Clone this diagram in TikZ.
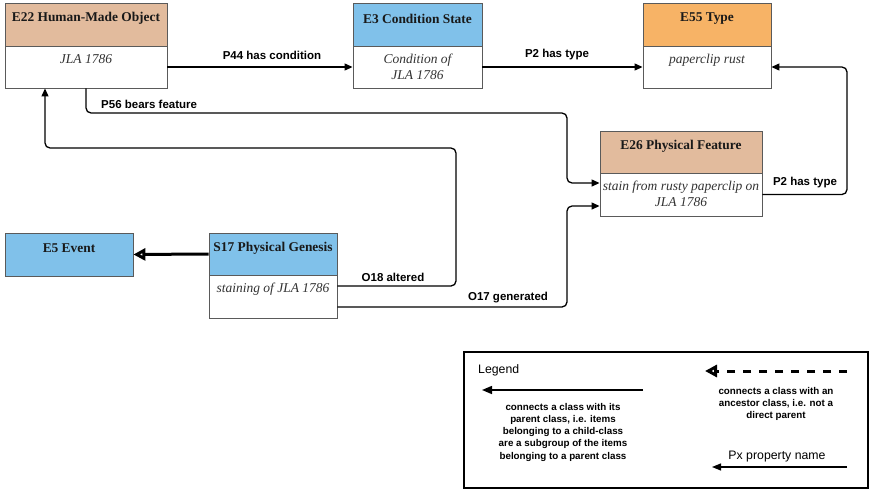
\documentclass[tikz,border=0pt]{standalone}
\usepackage{fontspec}
\setmainfont{Liberation Serif}
\newfontfamily\lsans{Liberation Sans}
\usetikzlibrary{arrows.meta}

\definecolor{clstan}{HTML}{E2BB9D}
\definecolor{clsblue}{HTML}{80C1EA}
\definecolor{clsorange}{HTML}{F7B366}
\definecolor{boxgray}{HTML}{5A5A5A}
\definecolor{inkgray}{HTML}{333333}

\tikzset{
  partbox/.style={draw=boxgray, line width=0.9pt, inner sep=0pt},
  titletext/.style={font=\fontsize{13.4}{15}\selectfont\bfseries, text=black!90, inner sep=0pt},
  bodytext/.style={font=\fontsize{13.5}{16}\selectfont\itshape, text=inkgray, align=center, inner sep=0pt, anchor=north},
  proplabel/.style={font=\lsans\fontsize{11.5}{13}\selectfont\bfseries, inner sep=0pt},
  conn/.style={line width=1.3pt, rounded corners=5pt, -{Triangle[length=8pt,width=7pt]}},
  openhead/.style={-{Triangle[open,length=12pt,width=12pt,line width=3pt]}},
  isa/.style={line width=3pt, openhead},
  legtext/.style={font=\lsans\fontsize{9.8}{12.2}\selectfont\bfseries, align=center, inner sep=0pt, anchor=north},
}

% class box: name, x-left, x-right, y-top, y-split, y-bottom, header fill, title, instance text
\newcommand\clsbox[9]{%
  \node[partbox, fill=#7, minimum width={(#3-#2)*1pt}, minimum height={(#5-#4)*1pt}]
    (#1h) at ({(#2+#3)/2},{(#4+#5)/2}) {};
  \node[partbox, fill=white, minimum width={(#3-#2)*1pt}, minimum height={(#6-#5)*1pt}]
    (#1) at ({(#2+#3)/2},{(#5+#6)/2}) {};
  \node[titletext] at ([yshift=-16pt]#1h.north) {#8};
  \node[bodytext] at ([yshift=-8.5pt]#1.north) {#9};
}

\begin{document}
\begin{tikzpicture}[x=1pt, y=-1pt]
\useasboundingbox (0,0) rectangle (871,490);

% classes
\clsbox{e22}{5}{167}{3}{46}{88}{clstan}{E22 Human-Made Object}{JLA 1786}
\clsbox{e3}{353}{482}{3}{46}{88}{clsblue}{E3 Condition State}{Condition of\\JLA 1786}
\clsbox{e55}{643}{771}{3}{46}{88}{clsorange}{E55 Type}{paperclip rust}
\clsbox{e26}{600}{762}{131}{173}{216}{clstan}{E26 Physical Feature}{stain from rusty paperclip on\\JLA 1786}
\clsbox{s17}{209}{337}{233}{275}{318}{clsblue}{S17 Physical Genesis}{staining of JLA 1786}
\node[partbox, fill=clsblue, minimum width=128pt, minimum height=43pt] (e5) at (69,254.5) {};
\node[titletext] at ([yshift=-16pt]e5.north) {E5 Event};

% properties
\draw[conn] (e22.east) -- (e3.west);
\node[proplabel] at (272,55) {P44 has condition};

\draw[conn] (e3.east) -- (e55.west);
\node[proplabel] at (557,55) {P2 has type};

\coordinate (bendA) at (847,67);
\draw[conn] (e26.east) -| (bendA) -- (e55.east);
\node[proplabel] at (805,183) {P2 has type};

\draw[conn] (e22.south) -- (86,113) -- (567,113) -- (567,183) -- ([yshift=11.5pt]e26.west);
\node[proplabel, anchor=west] at (101,104) {P56 bears feature};

\draw[conn] ([yshift=10.5pt]s17.east) -- (456,286) -- (456,148) -- (45,148) -- ([xshift=-41pt]e22.south);
\node[proplabel] at (393,277) {O18 altered};

\draw[conn] ([yshift=-10.5pt]s17.east) -- (567,307) -- (567,206) -- ([yshift=-11.5pt]e26.west);
\node[proplabel] at (508,298) {O17 generated};

% subclass link
\draw[isa] (s17h.west) -- (e5.east);

% legend
\node[draw=black, line width=2pt, minimum width=404pt, minimum height=136pt, inner sep=0pt] (legend) at (666,420) {};
\node[font=\lsans\fontsize{12.3}{14}\selectfont, anchor=west, inner sep=0pt] at (478,370) {Legend};

\coordinate (la1) at (643,390);
\coordinate (la2) at (482,390);
\draw[line width=1.5pt, -{Triangle[length=10pt,width=8pt]}] (la1) -- (la2);
\node[legtext] at (563,403) {connects a class with its\\parent class, i.e. items\\belonging to a child-class\\are a subgroup of the items\\belonging to a parent class};

\coordinate (lb1) at (847,371);
\coordinate (lb2) at (705,371);
\draw[line width=3pt, dash pattern=on 8pt off 8pt, openhead] (lb1) -- (lb2);
\node[legtext] at (776,387) {connects a class with an\\ancestor class, i.e. not a\\direct parent};

\coordinate (lc1) at (847,467);
\coordinate (lc2) at (712,467);
\draw[line width=1.2pt, -{Triangle[length=9pt,width=7pt]}] (lc1) -- (lc2);
\node[font=\lsans\fontsize{12.3}{14}\selectfont, inner sep=0pt] at (777,457) {Px property name};
\end{tikzpicture}
\end{document}
